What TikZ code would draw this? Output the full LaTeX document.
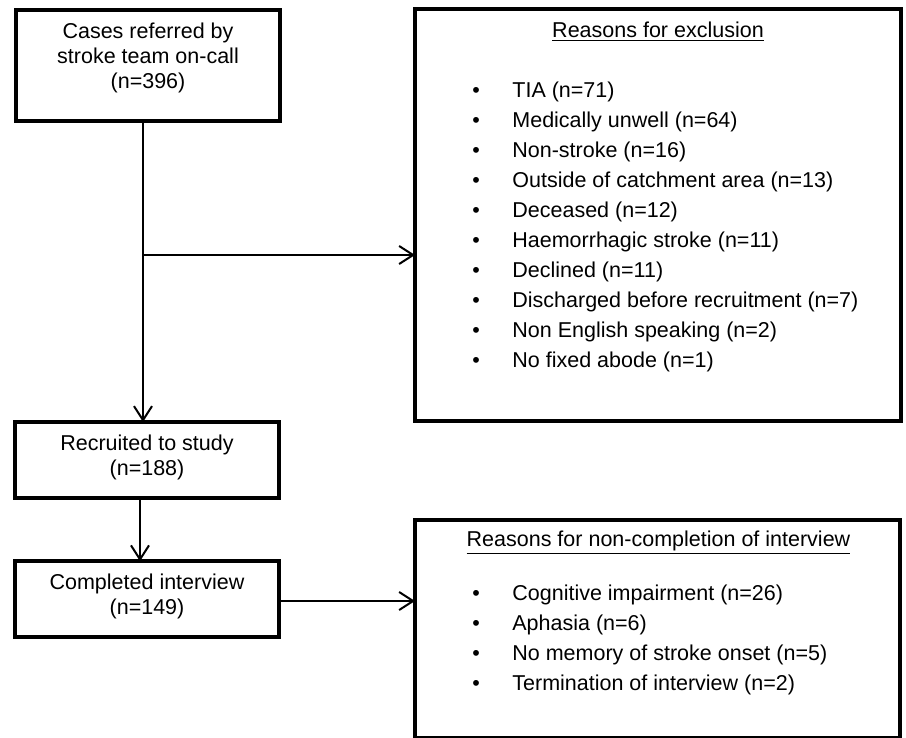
\documentclass[tikz,border=0pt]{standalone}
\usepackage{fontspec}
\setmainfont{Liberation Sans}
\usetikzlibrary{arrows.meta}

\tikzset{
    box/.style={draw, line width=2pt, inner sep=0pt, outer sep=0pt},
    boxtext/.style={align=center, font=\fontsize{10.75}{12.5}\selectfont},
    listhead/.style={font=\fontsize{10.75}{12.5}\selectfont},
    listitem/.style={anchor=west, inner sep=0pt, font=\fontsize{10.75}{12.5}\selectfont},
    flow/.style={line width=1pt, -{Straight Barb[length=7pt,width=9pt]}}
}

\begin{document}
\begin{tikzpicture}[x=0.5pt, y=-0.5pt]
    \useasboundingbox (0,0) rectangle (906,738);

    % left column
    \node [box, minimum width=132pt, minimum height=55.5pt] (cases) at (148,65.5) {};
    \node [boxtext] (casestext) at (148,58) {Cases referred by\\stroke team on-call\\(n=396)};

    \node [box, minimum width=132pt, minimum height=38pt] (recruited) at (147,460) {};
    \node [boxtext] (recruitedtext) at (147,457.5) {Recruited to study\\(n=188)};

    \node [box, minimum width=132pt, minimum height=37.75pt] (completed) at (147,599) {};
    \node [boxtext] (completedtext) at (147,596) {Completed interview\\(n=149)};

    % exclusion box
    \node [box, minimum width=243pt, minimum height=205.5pt] (excl) at (658,215) {};
    \node [listhead] (exclhead) at (658,32) {\underline{Reasons for exclusion}};
    \foreach \reason [count=\i] in {TIA (n=71), Medically unwell (n=64), Non-stroke (n=16),
        Outside of catchment area (n=13), Deceased (n=12), Haemorrhagic stroke (n=11),
        Declined (n=11), Discharged before recruitment (n=7), Non English speaking (n=2),
        No fixed abode (n=1)}{
        \node [listitem] (exclbullet\i) at (472, 62+30*\i) {\textbullet};
        \node [listitem] (excl\i) at (512, 62+30*\i) {\reason};
    }

    % non-completion box
    \node [box, minimum width=242.5pt, minimum height=109pt] (noncomp) at (657.5,629) {};
    \node [listhead] (noncomphead) at (658.5,543) {\underline{Reasons for non-completion of interview}};
    \foreach \reason [count=\i] in {Cognitive impairment (n=26), Aphasia (n=6),
        No memory of stroke onset (n=5), Termination of interview (n=2)}{
        \node [listitem] (noncompbullet\i) at (472, 565+30*\i) {\textbullet};
        \node [listitem] (noncomp\i) at (512, 565+30*\i) {\reason};
    }

    % connectors
    \coordinate (split) at (143,255);
    \draw [flow] (cases.south -| split) -- (recruited.north -| split);
    \draw [flow] (split) -- (split -| excl.west);
    \draw [flow] ([xshift=-3.5pt]recruited.south) -- ([xshift=-3.5pt]completed.north);
    \draw [flow] ([yshift=-1pt]completed.east) -- ([yshift=-1pt]completed.east -| noncomp.west);
\end{tikzpicture}
\end{document}
